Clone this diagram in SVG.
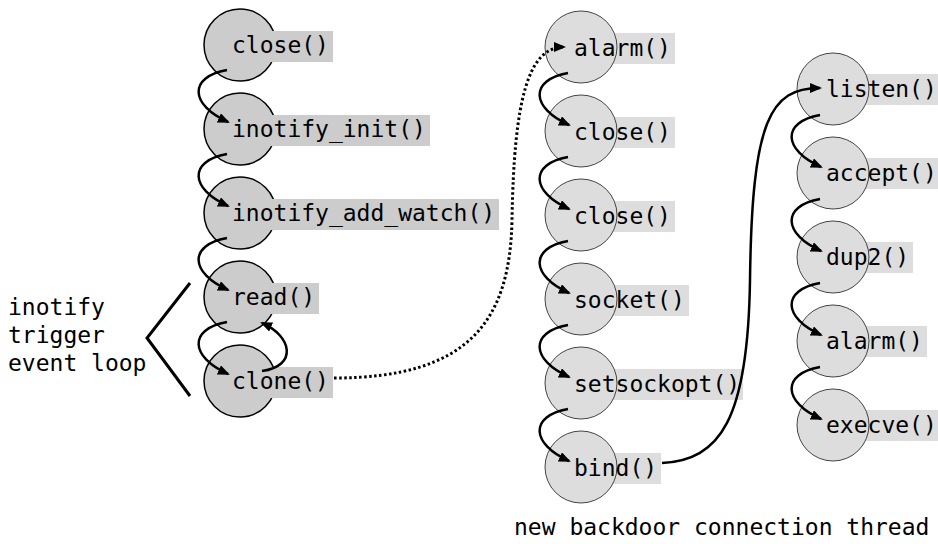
<svg xmlns="http://www.w3.org/2000/svg" width="938" height="544" viewBox="0 0 938 544">
<style>
text{font-family:"DejaVu Sans Mono","Liberation Mono",monospace;font-size:23px;fill:#000}
.cl{fill:#cccccc;stroke:#000;stroke-width:1.5}
.cm{fill:#dddddd;stroke:#444;stroke-width:1}
.rl{fill:#cccccc}
.rm{fill:#dddddd}
.c{fill:none;stroke:#000;stroke-width:2.5}
.d{fill:none;stroke:#000;stroke-width:3;stroke-dasharray:2.5 2.5}
</style>
<defs>
<marker id="ah" viewBox="0 0 12 10" refX="10" refY="5" markerWidth="12" markerHeight="10" markerUnits="userSpaceOnUse" orient="auto">
<path d="M0,0 L12,5 L0,10 z" fill="#000"/>
</marker>
</defs>
<rect width="938" height="544" fill="#fff"/>
<g id="left-label">
<text x="8" y="315">inotify</text>
<text x="8" y="343">trigger</text>
<text x="8" y="371">event loop</text>
<polyline points="190,283 147,338 190,396" fill="none" stroke="#000" stroke-width="3"/>
</g>
<g id="n-close1"><circle class="cl" cx="240" cy="45" r="36"/><rect class="rl" x="230" y="31" width="103" height="31"/><text x="232" y="53">close()</text></g>
<g id="n-inotify-init"><circle class="cl" cx="240" cy="129" r="36"/><rect class="rl" x="230" y="115" width="200" height="31"/><text x="232" y="137">inotify_init()</text></g>
<g id="n-inotify-add-watch"><circle class="cl" cx="240" cy="213" r="36"/><rect class="rl" x="230" y="199" width="269" height="31"/><text x="232" y="221">inotify_add_watch()</text></g>
<g id="n-read"><circle class="cl" cx="240" cy="297" r="36"/><rect class="rl" x="230" y="283" width="89" height="31"/><text x="232" y="305">read()</text></g>
<g id="n-clone"><circle class="cl" cx="240" cy="381" r="36" stroke-width="2"/><rect class="rl" x="230" y="367" width="103" height="31"/><text x="232" y="389">clone()</text></g>

<g id="n-alarm1"><rect class="rm" x="571" y="33" width="104" height="31"/><circle class="cm" cx="581" cy="47" r="36"/><text x="574" y="56">alarm()</text></g>
<g id="n-close2"><rect class="rm" x="571" y="117" width="104" height="31"/><circle class="cm" cx="581" cy="131" r="36"/><text x="574" y="140">close()</text></g>
<g id="n-close3"><rect class="rm" x="571" y="201" width="104" height="31"/><circle class="cm" cx="581" cy="215" r="36"/><text x="574" y="224">close()</text></g>
<g id="n-socket"><rect class="rm" x="571" y="285" width="118" height="31"/><circle class="cm" cx="581" cy="299" r="36"/><text x="574" y="308">socket()</text></g>
<g id="n-setsockopt"><rect class="rm" x="571" y="369" width="172" height="31"/><circle class="cm" cx="581" cy="383" r="36"/><text x="574" y="392">setsockopt()</text></g>
<g id="n-bind"><rect class="rm" x="571" y="453" width="90" height="31"/><circle class="cm" cx="581" cy="467" r="36"/><text x="574" y="476">bind()</text></g>

<g id="n-listen"><rect class="rm" x="823" y="74" width="118" height="31"/><circle class="cm" cx="833" cy="89" r="36"/><text x="826" y="97">listen()</text></g>
<g id="n-accept"><rect class="rm" x="823" y="158" width="118" height="31"/><circle class="cm" cx="833" cy="173" r="36"/><text x="826" y="181">accept()</text></g>
<g id="n-dup2"><rect class="rm" x="823" y="242" width="90" height="31"/><circle class="cm" cx="833" cy="257" r="36"/><text x="826" y="265">dup2()</text></g>
<g id="n-alarm2"><rect class="rm" x="823" y="326" width="104" height="31"/><circle class="cm" cx="833" cy="341" r="36"/><text x="826" y="349">alarm()</text></g>
<g id="n-execve"><rect class="rm" x="823" y="410" width="118" height="31"/><circle class="cm" cx="833" cy="425" r="36"/><text x="826" y="433">execve()</text></g>

<g id="caption"><text x="514" y="535">new backdoor connection thread</text></g>

<g id="connectors">
<path class="c" marker-end="url(#ah)" d="M227,70 C188,77 190,105 228,122"/>
<path class="c" marker-end="url(#ah)" d="M227,154 C188,161 190,189 228,206"/>
<path class="c" marker-end="url(#ah)" d="M227,238 C188,245 190,273 228,290"/>
<path class="c" marker-end="url(#ah)" d="M227,322 C188,329 190,357 228,374"/>
<path class="c" marker-end="url(#ah)" d="M262,371 C298,366 292,336 262,323"/>

<path class="c" marker-end="url(#ah)" d="M568,73 C529,80 531,108 569,125"/>
<path class="c" marker-end="url(#ah)" d="M568,157 C529,164 531,192 569,209"/>
<path class="c" marker-end="url(#ah)" d="M568,241 C529,248 531,276 569,293"/>
<path class="c" marker-end="url(#ah)" d="M568,325 C529,332 531,360 569,377"/>
<path class="c" marker-end="url(#ah)" d="M568,409 C529,416 531,444 569,461"/>

<path class="c" marker-end="url(#ah)" d="M820,115 C781,122 783,150 821,167"/>
<path class="c" marker-end="url(#ah)" d="M820,199 C781,206 783,234 821,251"/>
<path class="c" marker-end="url(#ah)" d="M820,283 C781,290 783,318 821,335"/>
<path class="c" marker-end="url(#ah)" d="M820,367 C781,374 783,402 821,419"/>

<path class="d" marker-end="url(#ah)" d="M334,378 C470,378 510,320 512,220 C514,100 528,47 564,47"/>
<path class="c" marker-end="url(#ah)" d="M662,463 C720,460 748,420 750,280 C752,120 770,88 820,88"/>
</g>
</svg>
